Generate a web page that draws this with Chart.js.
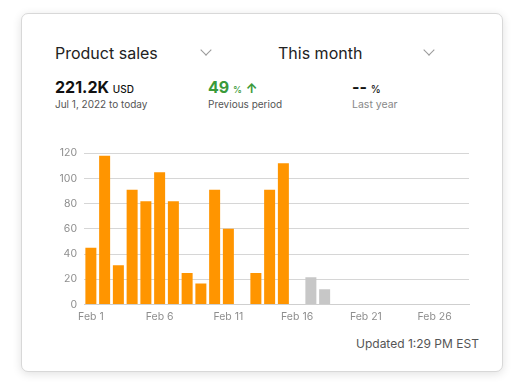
<!DOCTYPE html>
<html><head><meta charset="utf-8">
<script src="https://cdn.jsdelivr.net/npm/chart.js@4/dist/chart.umd.min.js"></script>
<style>
html,body{margin:0;padding:0;background:#fff;width:531px;height:391px;overflow:hidden;font-family:Inter,"Noto Sans",sans-serif;}
.card{position:absolute;left:21px;top:13px;width:480px;height:357px;border:1px solid #d8d8d8;border-radius:7px;background:#fff;box-shadow:0 2px 10px rgba(0,0,0,0.12);}
.t{position:absolute;white-space:nowrap;}
.chev{position:absolute;width:7px;height:7px;border-right:1.3px solid #999;border-bottom:1.3px solid #999;transform:rotate(45deg);}
#wrap{position:absolute;left:55px;top:140px;width:420px;height:189px;}
</style></head>
<body>
<div class="card"></div>
<div class="t" style="left:55px;top:43px;font-size:16px;color:#222;">Product sales</div>
<div class="chev" style="left:202px;top:46px;"></div>
<div class="t" style="left:278px;top:43px;font-size:16px;color:#222;">This month</div>
<div class="chev" style="left:425px;top:46px;"></div>

<div class="t" style="left:55px;top:77px;font-size:16px;font-weight:700;color:#111;">221.2K <span style="font-size:10px;font-weight:500;">USD</span></div>
<div class="t" style="left:55px;top:98px;font-size:10px;color:#555;">Jul 1, 2022 to today</div>

<div class="t" style="left:208px;top:77px;font-size:16px;font-weight:700;color:#3a9a3a;">49 <span style="font-size:9px;font-weight:500;">%</span> <span style="font-size:13px;">&#8593;</span></div>
<div class="t" style="left:208px;top:98px;font-size:10px;color:#555;">Previous period</div>

<div class="t" style="left:352px;top:77px;font-size:16px;font-weight:700;color:#111;">-- <span style="font-size:10px;font-weight:500;">%</span></div>
<div class="t" style="left:352px;top:98px;font-size:10.5px;color:#888;">Last year</div>

<div id="wrap"><canvas id="c"></canvas></div>
<div class="t" style="left:356px;top:336px;font-size:12px;color:#555;">Updated 1:29 PM EST</div>

<script>
const categories = ["Feb 1","Feb 2","Feb 3","Feb 4","Feb 5","Feb 6","Feb 7","Feb 8","Feb 9","Feb 10","Feb 11","Feb 12","Feb 13","Feb 14","Feb 15","Feb 16","Feb 17","Feb 18","Feb 19","Feb 20","Feb 21","Feb 22","Feb 23","Feb 24","Feb 25","Feb 26","Feb 27","Feb 28"];
const salesValues = [45,118,31,91,82,105,82,25,16.5,91,60,null,25,91,112,null,null,null,null,null,null,null,null,null,null,null,null,null];
const pendingValues = [null,null,null,null,null,null,null,null,null,null,null,null,null,null,null,null,21.5,12,null,null,null,null,null,null,null,null,null,null];
const yTicks = [0,20,40,60,80,100,120];
const shownLabels = ["Feb 1","Feb 6","Feb 11","Feb 16","Feb 21","Feb 26"];

new Chart(document.getElementById('c'), {
  type: 'bar',
  data: {
    labels: categories,
    datasets: [
      {data: salesValues, backgroundColor: '#ff9500', categoryPercentage: 1, barPercentage: 0.8, grouped: false},
      {data: pendingValues, backgroundColor: '#c7c7c7', categoryPercentage: 1, barPercentage: 0.8, grouped: false}
    ]
  },
  options: {
    responsive: true, maintainAspectRatio: false, animation: false,
    layout: {padding: {top: 6, right: 6, left: 0, bottom: 0}},
    plugins: {legend: {display: false}, tooltip: {enabled: false}},
    scales: {
      x: {
        grid: {display: false, drawTicks: false},
        border: {display: true, color: '#cfcfcf'},
        ticks: {autoSkip: false, maxRotation: 0, padding: 6, color: '#8e8e8e', font: {family: 'Inter', size: 10.5},
          callback: function(v, i) { const l = categories[i]; return shownLabels.includes(l) ? l : ''; }}
      },
      y: {
        min: 0, max: 120,
        afterBuildTicks: (ax) => { ax.ticks = yTicks.map(v => ({value: v})); },
        grid: {color: '#d6d6d6', drawTicks: false},
        border: {display: false},
        afterFit: (ax) => { ax.width = 29; },
        ticks: {padding: 7, color: '#8e8e8e', font: {family: 'Inter', size: 10.5}}
      }
    }
  }
});
</script>
</body></html>
